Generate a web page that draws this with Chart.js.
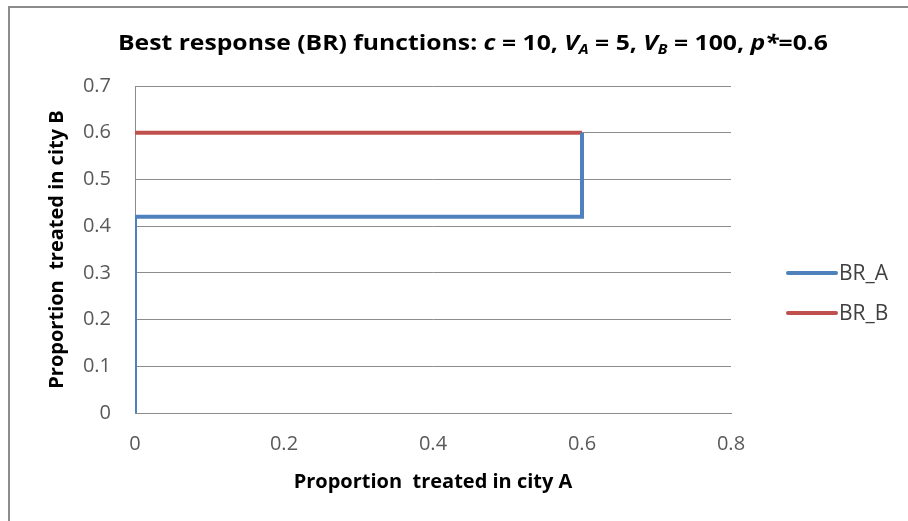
<!DOCTYPE html>
<html>
<head>
<meta charset="utf-8">
<script src="https://cdn.jsdelivr.net/npm/chart.js@4/dist/chart.umd.min.js"></script>
<style>
  html, body { margin: 0; padding: 0; background: #fff; }
  #wrap { width: 908px; height: 521px; position: relative; }
</style>
</head>
<body>
<div id="wrap"><canvas id="c" width="908" height="521"></canvas></div>
<script>
// Best-response step functions for the two cities
const seriesNames = ['BR_A', 'BR_B'];
const seriesColors = ['#4F81BD', '#C0504D'];
const brA_x = [0, 0, 0.6, 0.6];
const brA_y = [0, 0.42, 0.42, 0.6];
const brB_x = [0, 0.6];
const brB_y = [0.6, 0.6];
const xTicks = [0, 0.2, 0.4, 0.6, 0.8];
const yTicks = [0, 0.1, 0.2, 0.3, 0.4, 0.5, 0.6, 0.7];

const FONT = '"Open Sans", "Noto Sans", "Liberation Sans", sans-serif';

function pts(xs, ys) { return xs.map((x, i) => ({ x: x, y: ys[i] })); }

// Outer frame of the chart object
const framePlugin = {
  id: 'frame',
  beforeDraw(chart) {
    const ctx = chart.ctx;
    ctx.save();
    ctx.fillStyle = '#ffffff';
    ctx.fillRect(0, 0, chart.width, chart.height);
    ctx.strokeStyle = '#8c8c8c';
    ctx.lineWidth = 2;
    ctx.strokeRect(9, 7, chart.width + 20, chart.height + 20);
    ctx.restore();
  }
};

// Title with italic symbols and subscripts
const titlePlugin = {
  id: 'richTitle',
  afterDraw(chart) {
    const ctx = chart.ctx;
    const size = 22, sub = 14;
    const parts = [
      ['Best response (BR) functions: ', 'n'],
      ['c', 'i'], [' = 10, ', 'n'],
      ['V', 'i'], ['A', 's'], [' = 5, ', 'n'],
      ['V', 'i'], ['B', 's'], [' = 100, ', 'n'],
      ['p', 'i'], ['*', 'i'], ['=0.6', 'n']
    ];
    const fontFor = k => k === 'n' ? `bold ${size}px ${FONT}` :
                         k === 'i' ? `italic bold ${size}px ${FONT}` :
                                     `italic bold ${sub}px ${FONT}`;
    ctx.save();
    let total = 0;
    const widths = parts.map(p => { ctx.font = fontFor(p[1]); const w = ctx.measureText(p[0]).width; total += w; return w; });
    // stretch horizontally to the title's printed width
    const target = 710;
    const sx = target / total;
    ctx.translate(473 - target / 2, 50);
    ctx.scale(sx, 1);
    let x = 0;
    ctx.fillStyle = '#000';
    ctx.textBaseline = 'alphabetic';
    ctx.textAlign = 'left';
    parts.forEach((p, i) => {
      ctx.font = fontFor(p[1]);
      ctx.fillText(p[0], x, p[1] === 's' ? 4 : 0);
      x += widths[i];
    });
    ctx.restore();
  }
};

// Legend on the right side
const legendPlugin = {
  id: 'sideLegend',
  afterDraw(chart) {
    const ctx = chart.ctx;
    const ys = [273, 313];
    ctx.save();
    chart.data.datasets.forEach((ds, i) => {
      ctx.strokeStyle = ds.borderColor;
      ctx.lineWidth = 4;
      ctx.lineCap = 'round';
      ctx.beginPath();
      ctx.moveTo(788, ys[i]);
      ctx.lineTo(836, ys[i]);
      ctx.stroke();
      ctx.fillStyle = '#404040';
      ctx.font = `21px ${FONT}`;
      ctx.textBaseline = 'middle';
      ctx.textAlign = 'left';
      ctx.fillText(ds.label, 839, ys[i] + 1);
    });
    ctx.restore();
  }
};

new Chart(document.getElementById('c'), {
  type: 'scatter',
  data: {
    datasets: [
      { label: seriesNames[0], data: pts(brA_x, brA_y), borderColor: seriesColors[0], backgroundColor: seriesColors[0],
        showLine: true, borderWidth: 4, pointRadius: 0, pointHoverRadius: 0, borderJoinStyle: 'miter', order: 0 },
      { label: seriesNames[1], data: pts(brB_x, brB_y), borderColor: seriesColors[1], backgroundColor: seriesColors[1],
        showLine: true, borderWidth: 4, pointRadius: 0, pointHoverRadius: 0, order: 1 }
    ]
  },
  options: {
    responsive: false,
    animation: false,
    devicePixelRatio: 1,
    layout: { padding: { left: 0, top: 86, right: 177, bottom: 0 } },
    plugins: { legend: { display: false }, title: { display: false }, tooltip: { enabled: false } },
    scales: {
      x: {
        type: 'linear', min: 0, max: 0.8,
        afterBuildTicks: s => { s.ticks = xTicks.map(v => ({ value: v })); },
        afterFit: s => { s.height = 108; },
        grid: { display: false, drawTicks: false },
        border: { display: true, color: '#8c8c8c', width: 1 },
        ticks: { padding: 19, color: '#595959', font: { family: FONT, size: 20 },
                 callback: v => String(Math.round(v * 10) / 10) },
        title: { display: true, text: 'Proportion  treated in city A', color: '#000',
                 font: { family: FONT, size: 20, weight: 'bold' }, padding: { bottom: 27 } }
      },
      y: {
        type: 'linear', min: 0, max: 0.7,
        afterBuildTicks: s => { s.ticks = yTicks.map(v => ({ value: v })); },
        afterFit: s => { s.width = 135; },
        grid: { color: '#8c8c8c', lineWidth: 1, drawTicks: false },
        border: { display: true, color: '#8c8c8c', width: 1 },
        ticks: { padding: 24, color: '#595959', font: { family: FONT, size: 20 },
                 callback: v => String(Math.round(v * 10) / 10) },
        title: { display: true, text: 'Proportion  treated in city B', color: '#000',
                 font: { family: FONT, size: 20, weight: 'bold' }, padding: { top: 45 } }
      }
    }
  },
  plugins: [framePlugin, titlePlugin, legendPlugin]
});
</script>
</body>
</html>
